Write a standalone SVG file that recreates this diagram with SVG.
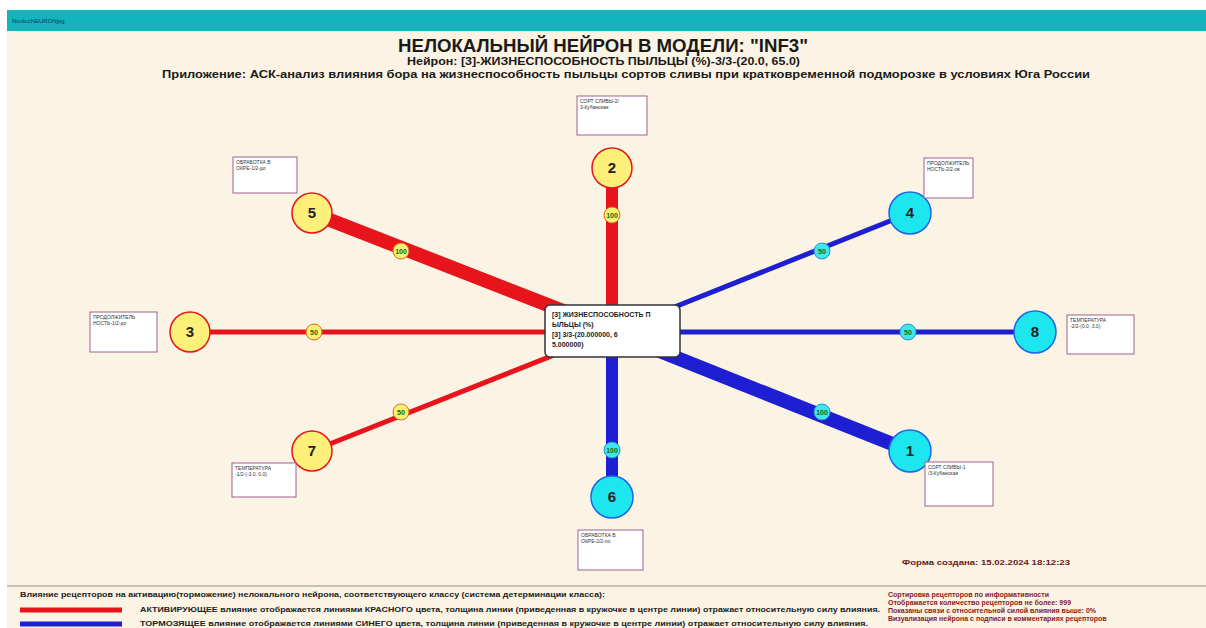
<svg xmlns="http://www.w3.org/2000/svg" width="1206" height="628" viewBox="0 0 1206 628">
<style>
text{font-family:"Liberation Sans",Arial,sans-serif}
.title{font-size:18px;font-weight:bold;fill:#1a1a1a}
.sub{font-size:11px;font-weight:bold;fill:#1a1a1a}
.red{stroke:#e8141c;fill:none}
.blue{stroke:#1e1ed2;fill:none}
.nodeA{fill:#fdf07a;stroke:#e8141c;stroke-width:1.5}
.nodeB{fill:#1ee6ee;stroke:#1e64e6;stroke-width:1.5}
.num{font-size:15px;font-weight:bold;fill:#222;text-anchor:middle}
.wA{fill:#f8f070;stroke:#e06a20;stroke-width:1}
.wB{fill:#3ee6ee;stroke:#2a90d0;stroke-width:1}
.w{font-size:7px;font-weight:bold;fill:#126a12;text-anchor:middle}
.lbl{fill:#ffffff;stroke:#a06090;stroke-width:1}
.lt{font-size:5px;fill:#333}
.ft{font-size:7px;font-weight:bold;fill:#222}
.fr{font-size:7px;font-weight:bold;fill:#8a1a1a}
</style>
<rect x="0" y="0" width="1206" height="628" fill="#ffffff"/>
<rect x="7" y="10" width="1199" height="618" fill="#fbf4e4"/>
<rect x="7" y="10" width="1199" height="21" fill="#13b4bc"/>
<text x="12" y="23" style="font-size:6px;fill:#0a3a5a">NonlocNEURONjpg</text>
<g id="header">
<text class="title" x="398" y="52" textLength="410" lengthAdjust="spacingAndGlyphs">НЕЛОКАЛЬНЫЙ НЕЙРОН В МОДЕЛИ: "INF3"</text>
<text class="sub" x="407" y="65" textLength="393" lengthAdjust="spacingAndGlyphs">Нейрон: [3]-ЖИЗНЕСПОСОБНОСТЬ ПЫЛЬЦЫ (%)-3/3-(20.0, 65.0)</text>
<text class="sub" x="162" y="78" textLength="928" lengthAdjust="spacingAndGlyphs">Приложение: АСК-анализ влияния бора на жизнеспособность пыльцы сортов сливы при кратковременной подморозке в условиях Юга России</text>
</g>
<g id="connectors">
<line class="red" x1="612" y1="168" x2="612" y2="330" stroke-width="12"/>
<line class="red" x1="312" y1="213" x2="612" y2="330" stroke-width="14"/>
<line class="red" x1="190" y1="332" x2="612" y2="332" stroke-width="5"/>
<line class="red" x1="312" y1="451" x2="612" y2="332" stroke-width="5"/>
<line class="blue" x1="612" y1="497" x2="612" y2="332" stroke-width="12"/>
<line class="blue" x1="910" y1="451" x2="612" y2="332" stroke-width="14"/>
<line class="blue" x1="1035" y1="332" x2="612" y2="332" stroke-width="5"/>
<line class="blue" x1="910" y1="213" x2="612" y2="332" stroke-width="5"/>
<circle class="wA" cx="612" cy="215" r="8"/><text class="w" x="612" y="218">100</text>
<circle class="wA" cx="401" cy="251" r="8"/><text class="w" x="401" y="254">100</text>
<circle class="wA" cx="314" cy="332" r="8"/><text class="w" x="314" y="335">50</text>
<circle class="wA" cx="401" cy="412" r="8"/><text class="w" x="401" y="415">50</text>
<circle class="wB" cx="612" cy="450" r="8"/><text class="w" x="612" y="453">100</text>
<circle class="wB" cx="822" cy="412" r="8"/><text class="w" x="822" y="415">100</text>
<circle class="wB" cx="908" cy="332" r="8"/><text class="w" x="908" y="335">50</text>
<circle class="wB" cx="822" cy="251" r="8"/><text class="w" x="822" y="254">50</text>
</g>
<g id="center">
<rect x="545" y="305" width="135" height="52" rx="5" fill="#ffffff" stroke="#333" stroke-width="1.5"/>
<text x="552" y="317" style="font-size:7px;font-weight:bold;fill:#222">[3] ЖИЗНЕСПОСОБНОСТЬ П</text>
<text x="552" y="327" style="font-size:7px;font-weight:bold;fill:#222">ЫЛЬЦЫ (%)</text>
<text x="552" y="337" style="font-size:7px;font-weight:bold;fill:#222">[3] 3/3-(20.000000, 6</text>
<text x="552" y="347" style="font-size:7px;font-weight:bold;fill:#222">5.000000)</text>
</g>
<g id="node2"><circle class="nodeA" cx="612" cy="168" r="20"/><text class="num" x="612" y="173">2</text>
<rect class="lbl" x="577" y="96" width="70" height="39"/><text class="lt" x="580" y="103">СОРТ СЛИВЫ-2/</text><text class="lt" x="580" y="109">3-Кубанская</text></g>
<g id="node5"><circle class="nodeA" cx="312" cy="213" r="20"/><text class="num" x="312" y="218">5</text>
<rect class="lbl" x="233" y="157" width="64" height="36"/><text class="lt" x="236" y="164">ОБРАБОТКА В</text><text class="lt" x="236" y="170">ОКРЕ-1/2-до</text></g>
<g id="node3"><circle class="nodeA" cx="190" cy="332" r="20"/><text class="num" x="190" y="337">3</text>
<rect class="lbl" x="90" y="312" width="67" height="40"/><text class="lt" x="93" y="319">ПРОДОЛЖИТЕЛЬ</text><text class="lt" x="93" y="325">НОСТЬ-1/2-до</text></g>
<g id="node7"><circle class="nodeA" cx="312" cy="451" r="20"/><text class="num" x="312" y="456">7</text>
<rect class="lbl" x="232" y="463" width="64" height="34"/><text class="lt" x="235" y="470">ТЕМПЕРАТУРА</text><text class="lt" x="235" y="476">-1/2-(-3.0, 0.0)</text></g>
<g id="node6"><circle class="nodeB" cx="612" cy="497" r="21"/><text class="num" x="612" y="502">6</text>
<rect class="lbl" x="578" y="530" width="65" height="40"/><text class="lt" x="581" y="537">ОБРАБОТКА В</text><text class="lt" x="581" y="543">ОКРЕ-2/2-по</text></g>
<g id="node1"><circle class="nodeB" cx="910" cy="451" r="21"/><text class="num" x="910" y="456">1</text>
<rect class="lbl" x="925" y="462" width="68" height="44"/><text class="lt" x="928" y="469">СОРТ СЛИВЫ-1</text><text class="lt" x="928" y="475">/3-Кубанская</text></g>
<g id="node8"><circle class="nodeB" cx="1035" cy="332" r="21"/><text class="num" x="1035" y="337">8</text>
<rect class="lbl" x="1067" y="315" width="67" height="39"/><text class="lt" x="1070" y="322">ТЕМПЕРАТУРА</text><text class="lt" x="1070" y="328">-2/2-(0.0, 3.0)</text></g>
<g id="node4"><circle class="nodeB" cx="910" cy="213" r="21"/><text class="num" x="910" y="218">4</text>
<rect class="lbl" x="924" y="158" width="49" height="40"/><text class="lt" x="927" y="165">ПРОДОЛЖИТЕЛЬ</text><text class="lt" x="927" y="171">НОСТЬ-2/2-св</text></g>
<text x="902" y="565" textLength="168" lengthAdjust="spacingAndGlyphs" style="font-size:8px;font-weight:bold;fill:#6a1a1a">Форма создана: 15.02.2024 18:12:23</text>
<g id="legend">
<line x1="7" y1="586" x2="1206" y2="586" stroke="#b8b0a0" stroke-width="1.5"/>
<text class="ft" x="20" y="597" textLength="585" lengthAdjust="spacingAndGlyphs">Влияние рецепторов на активацию(торможение) нелокального нейрона, соответствующего классу (система детерминации класса):</text>
<line x1="20" y1="610" x2="122" y2="610" stroke="#e8141c" stroke-width="5"/>
<line x1="20" y1="624" x2="122" y2="624" stroke="#1e1ed2" stroke-width="5"/>
<text class="ft" x="140" y="612" textLength="740" lengthAdjust="spacingAndGlyphs">АКТИВИРУЮЩЕЕ влияние отображается линиями КРАСНОГО цвета, толщина линии (приведенная в кружочке в центре линии) отражает относительную силу влияния.</text>
<text class="ft" x="140" y="626" textLength="728" lengthAdjust="spacingAndGlyphs">ТОРМОЗЯЩЕЕ влияние отображается линиями СИНЕГО цвета, толщина линии (приведенная в кружочке в центре линии) отражает относительную силу влияния.</text>
<text class="fr" x="888" y="597">Сортировка рецепторов по информативности</text>
<text class="fr" x="888" y="605">Отображается количество рецепторов не более: 999</text>
<text class="fr" x="888" y="613">Показаны связи с относительной силой влияния выше: 0%</text>
<text class="fr" x="888" y="621">Визуализация нейрона с подписи в комментариях рецепторов</text>
</g>
</svg>
